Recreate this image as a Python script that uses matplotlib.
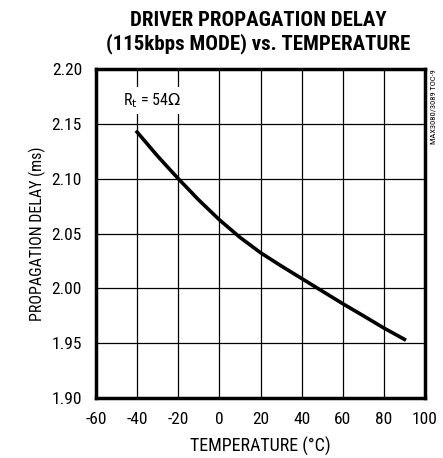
import matplotlib
matplotlib.use("Agg")
import matplotlib.pyplot as plt
from matplotlib import font_manager as fm

names = {f.name for f in fm.fontManager.ttflist}
fam = 'DejaVu Sans'
for cand in ['Roboto Condensed', 'Archivo Narrow', 'PT Sans Narrow', 'Arimo']:
    if cand in names:
        fam = cand
        break
plt.rcParams['font.family'] = [fam, 'DejaVu Sans']

temperature = [-40, -30, -20, -10, 0, 10, 20, 30, 40, 50, 60, 70, 80, 90]
delay = [2.1425, 2.1205, 2.100, 2.0805, 2.0625, 2.0465, 2.0325, 2.0205, 2.009, 1.9975, 1.986, 1.975, 1.9638, 1.9535]
xticks = [-60, -40, -20, 0, 20, 40, 60, 80, 100]
yticks = [1.90, 1.95, 2.00, 2.05, 2.10, 2.15, 2.20]

fig = plt.figure(figsize=(4.43, 4.58), dpi=100)
ax = fig.add_axes([96/443, 1-398/458, 329/443, 329/458])
ax.set_xlim(-60, 100)
ax.set_ylim(1.90, 2.20)
ax.set_xticks(xticks)
ax.set_yticks(yticks)
ax.set_xticklabels([str(t) for t in xticks])
ax.set_yticklabels([f"{t:.2f}" for t in yticks])
ax.tick_params(length=0, labelsize=12.5, pad=10)
ax.grid(True, color='black', linewidth=0.9)
ax.set_axisbelow(True)
for s in ax.spines.values():
    s.set_linewidth(2.5)
ax.plot(temperature, delay, color='black', linewidth=2.6, zorder=3)
ax.text(-47, 2.171, r'R$_\mathrm{t}$ = 54$\Omega$', fontsize=11.5, va='center', ha='left',
        bbox=dict(facecolor='white', edgecolor='none', pad=3), zorder=4)
ax.set_xlabel('TEMPERATURE (°C)', fontsize=13, labelpad=7)
ax.set_ylabel('PROPAGATION DELAY (ms)', fontsize=11.5, labelpad=4)
fig.text(258/443, 1-21/458, 'DRIVER PROPAGATION DELAY', ha='center', va='center', fontsize=15, fontweight=900)
fig.text(258/443, 1-44/458, '(115kbps MODE) vs. TEMPERATURE', ha='center', va='center', fontsize=15, fontweight=900)
fig.text(434/443, 1-107/458, 'MAX3080/3089 TOC-9', rotation=90, ha='center', va='center', fontsize=6)
fig.savefig('out.png', dpi=100)
